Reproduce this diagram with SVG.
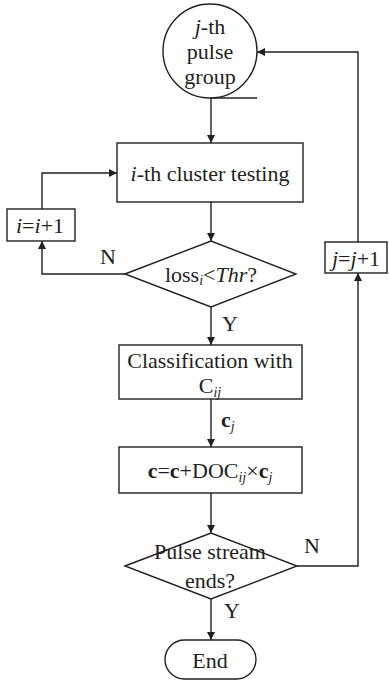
<svg xmlns="http://www.w3.org/2000/svg" width="389" height="684" viewBox="0 0 389 684">
<defs>
<marker id="arr" viewBox="0 0 10 10" refX="10" refY="5" markerWidth="9" markerHeight="8" markerUnits="userSpaceOnUse" orient="auto"><path d="M0,0 L10,5 L0,10 z" fill="#231f20"/></marker>
</defs>
<style>
.s{fill:#fff;stroke:#231f20;stroke-width:1.4}
.c{fill:none;stroke:#231f20;stroke-width:1.4}
text{font-size:22px;fill:#231f20}
.m{text-anchor:middle}
.sub{font-size:14px;font-style:italic}
.b{font-weight:bold}
</style>
<rect width="389" height="684" fill="#fff"/>
<g font-family="Liberation Serif, DejaVu Serif, serif">
<g id="connectors">
<line class="c" x1="211" y1="98" x2="257" y2="98"/>
<line class="c" x1="211" y1="98" x2="211" y2="143" marker-end="url(#arr)"/>
<line class="c" x1="211" y1="202" x2="211" y2="241" marker-end="url(#arr)"/>
<polyline class="c" points="125,274 42,274 42,241" marker-end="url(#arr)"/>
<polyline class="c" points="42,209 42,173 117,173" marker-end="url(#arr)"/>
<line class="c" x1="211" y1="307" x2="211" y2="345" marker-end="url(#arr)"/>
<line class="c" x1="211" y1="399" x2="211" y2="447" marker-end="url(#arr)"/>
<line class="c" x1="211" y1="493" x2="211" y2="533" marker-end="url(#arr)"/>
<polyline class="c" points="297,566 358,566 358,273" marker-end="url(#arr)"/>
<polyline class="c" points="358,242 358,52 257,52" marker-end="url(#arr)"/>
<line class="c" x1="211" y1="599" x2="211" y2="640" marker-end="url(#arr)"/>
<text x="108" y="264" class="m">N</text>
<text x="230" y="331" class="m">Y</text>
<text x="221" y="427" class="b">c<tspan class="sub" dy="4" font-weight="normal">j</tspan></text>
<text x="312" y="553" class="m">N</text>
<text x="232" y="618" class="m">Y</text>
</g>
<g id="start">
<circle class="s" cx="210" cy="51" r="47"/>
<text x="210" y="34" class="m"><tspan font-style="italic">j</tspan>-th</text>
<text x="210" y="59" class="m">pulse</text>
<text x="210" y="84" class="m">group</text>
</g>
<g id="cluster">
<rect class="s" x="117" y="143" width="186" height="59"/>
<text x="210" y="181" class="m"><tspan font-style="italic">i</tspan>-th cluster testing</text>
</g>
<g id="inc-i">
<rect class="s" x="7" y="209" width="68" height="32"/>
<text x="40" y="233" class="m"><tspan font-style="italic">i</tspan>=<tspan font-style="italic">i</tspan>+1</text>
</g>
<g id="loss">
<polygon class="s" points="125,274 211,241 296,274 211,307"/>
<text x="211" y="282" class="m">loss<tspan class="sub" dy="3">i</tspan><tspan dy="-3">&lt;</tspan><tspan font-style="italic">Thr</tspan>?</text>
</g>
<g id="classify">
<rect class="s" x="119" y="345" width="183" height="54"/>
<text x="210" y="368" class="m">Classification with</text>
<text x="210" y="393" class="m">C<tspan class="sub" dy="4">ij</tspan></text>
</g>
<g id="update">
<rect class="s" x="119" y="447" width="183" height="46"/>
<text x="210" y="478" class="m"><tspan class="b">c</tspan>=<tspan class="b">c</tspan>+DOC<tspan class="sub" dy="4">ij</tspan><tspan dy="-4">×</tspan><tspan class="b">c</tspan><tspan class="sub" dy="4">j</tspan></text>
</g>
<g id="inc-j">
<rect class="s" x="325" y="242" width="62" height="31"/>
<text x="356" y="266" class="m"><tspan font-style="italic">j</tspan>=<tspan font-style="italic">j</tspan>+1</text>
</g>
<g id="ends">
<polygon class="s" points="125,566 211,533 297,566 211,599"/>
<text x="210" y="559" class="m">Pulse stream</text>
<text x="210" y="588" class="m">ends?</text>
</g>
<g id="end">
<rect class="s" x="165" y="640" width="91" height="39" rx="19.5" ry="19.5"/>
<text x="210" y="668" class="m">End</text>
</g>
</g>
</svg>
